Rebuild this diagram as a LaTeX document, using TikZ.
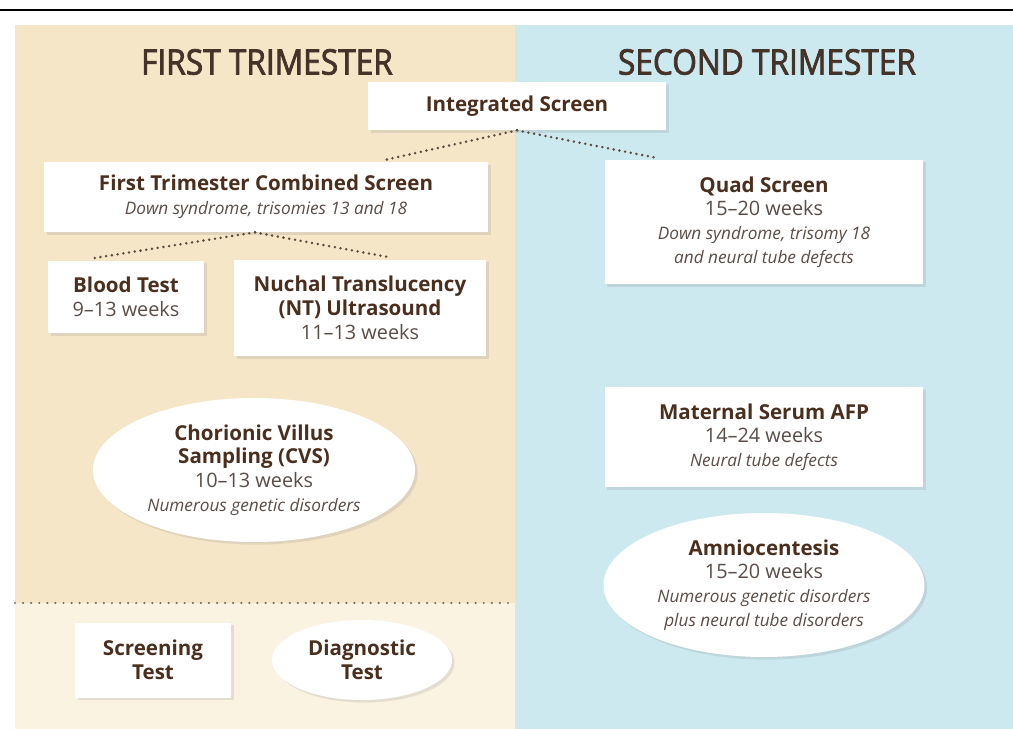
\documentclass[tikz,border=0pt]{standalone}
\usepackage{fontspec}
\setmainfont{Open Sans}
\newfontfamily\titlefont{Open Sans}[FakeStretch=0.9,FakeBold=2.2]
\usetikzlibrary{shapes.geometric,shadows}

\definecolor{firstbg}{HTML}{F6E6C8}
\definecolor{legendbg}{HTML}{FBF3E2}
\definecolor{secondbg}{HTML}{CCE9F0}
\definecolor{namebrown}{HTML}{4A2E1E}
\definecolor{titlebrown}{HTML}{45332A}
\definecolor{textgray}{HTML}{5A4D47}
\definecolor{dotgray}{HTML}{5E4C40}

\newcommand{\testname}[1]{{\bfseries\fontsize{11.7}{13.5}\selectfont\color{namebrown}#1}}
\newcommand{\weeks}[1]{{\fontsize{11.3}{13}\selectfont #1}}
\newcommand{\finds}[1]{{\itshape\fontsize{9.8}{12.5}\selectfont #1}}

\tikzset{
  title/.style={font=\titlefont\fontsize{20}{24}\selectfont, text=titlebrown},
  testbox/.style={rectangle, fill=white, align=center, text=textgray,
    font=\fontsize{10.5}{13.5}\selectfont,
    drop shadow={shadow xshift=1.5pt, shadow yshift=-1.5pt, opacity=0.18}},
  testoval/.style={testbox, ellipse, inner sep=0pt},
  link/.style={draw=dotgray, line width=1.6pt, line cap=round, dash pattern=on 0pt off 3.3pt},
  sep/.style={draw=dotgray!80, line width=1.4pt, line cap=round, dash pattern=on 0pt off 4.6pt}
}

\begin{document}
\begin{tikzpicture}[x=0.02cm,y=-0.02cm]
\useasboundingbox (0,0) rectangle (1013,729);

% page frame and the two trimester panels
\draw [line width=1pt] (0,10) -- (1013,10);
\fill [firstbg] (15,25) rectangle (515,603);
\fill [legendbg] (15,603) rectangle (515,729);
\fill [secondbg] (515,25) rectangle (1013,729);
\draw [sep] (15,603) -- (515,603);

\node [title] (first) at (267,62) {FIRST TRIMESTER};
\node [title] (second) at (767,62) {SECOND TRIMESTER};

% screening tests
\node [testbox, minimum width=5.96cm, minimum height=0.96cm] (integ) at (517,106)
  {\testname{Integrated Screen}};
\node [testbox, minimum width=8.88cm, minimum height=1.4cm] (comb) at (266,197)
  {\testname{First Trimester Combined Screen}\\ \finds{Down syndrome, trisomies 13 and 18}};
\node [testbox, minimum width=3.12cm, minimum height=1.46cm] (blood) at (126,297)
  {\testname{Blood Test}\\ \weeks{9--13 weeks}};
\node [testbox, minimum width=5.04cm, minimum height=1.94cm] (nt) at (360,308)
  {\testname{Nuchal Translucency}\\ \testname{(NT) Ultrasound}\\ \weeks{11--13 weeks}};
\node [testbox, minimum width=6.38cm, minimum height=2.5cm] (quad) at (764,222)
  {\testname{Quad Screen}\\ \weeks{15--20 weeks}\\ \finds{Down syndrome, trisomy 18}\\ \finds{and neural tube defects}};
\node [testbox, minimum width=6.38cm, minimum height=2cm] (afp) at (764,437)
  {\testname{Maternal Serum AFP}\\ \weeks{14--24 weeks}\\ \finds{Neural tube defects}};

% diagnostic tests
\node [testoval, minimum width=6.44cm, minimum height=2.88cm] (cvs) at (254,470)
  {\testname{Chorionic Villus}\\ \testname{Sampling (CVS)}\\ \weeks{10--13 weeks}\\ \finds{Numerous genetic disorders}};
\node [testoval, minimum width=6.42cm, minimum height=2.88cm] (amnio) at (764,585)
  {\testname{Amniocentesis}\\ \weeks{15--20 weeks}\\ \finds{Numerous genetic disorders}\\ \finds{plus neural tube disorders}};

% legend
\node [testbox, minimum width=3.12cm, minimum height=1.5cm] (screening) at (153,660)
  {\testname{Screening}\\ \testname{Test}};
\node [testoval, minimum width=3.6cm, minimum height=1.6cm] (diag) at (362,660)
  {\testname{Diagnostic}\\ \testname{Test}};

% dotted links
\draw [link] (integ.south) -- ([xshift=2.38cm,yshift=1pt]comb.north);
\draw [link] (integ.south) -- ([xshift=1cm,yshift=1pt]quad.north west);
\draw [link] ([xshift=-0.22cm]comb.south) -- ([xshift=-0.68cm,yshift=1pt]blood.north);
\draw [link] ([xshift=-0.22cm]comb.south) -- ([xshift=0.6cm,yshift=1pt]nt.north);
\end{tikzpicture}
\end{document}
